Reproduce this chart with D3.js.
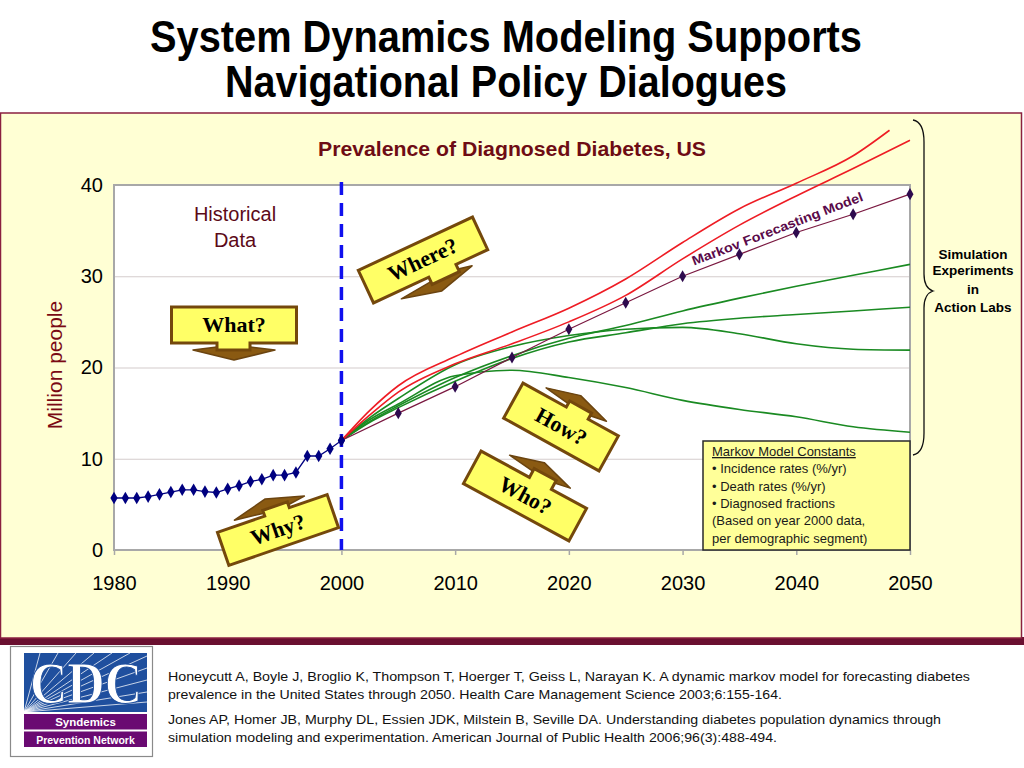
<!DOCTYPE html>
<html>
<head>
<meta charset="utf-8">
<script src="https://cdn.jsdelivr.net/npm/d3@7"></script>
<style>
  body { margin: 0; background: #ffffff; }
  svg { display: block; }
</style>
</head>
<body>
<script>
// ---- data ----
var histYears = [1980,1981,1982,1983,1984,1985,1986,1987,1988,1989,1990,1991,1992,1993,1994,1995,1996,1997,1998,1999,2000];
var histValues = [5.7,5.7,5.7,5.85,6.1,6.35,6.6,6.6,6.4,6.3,6.7,7.05,7.5,7.75,8.2,8.2,8.5,10.3,10.3,11.1,12.0];

var markovYears = [2000,2005,2010,2015,2020,2025,2030,2035,2040,2045,2050];
var markovValues = [12.0,15.0,17.9,21.1,24.2,27.1,30.0,32.4,34.8,36.8,39.0];

var scenarioYears = [2000,2002.5,2005,2010,2015,2020,2025,2030,2035,2040,2045,2050];
var redHighYears = [2000,2002.5,2005,2010,2015,2020,2025,2030,2035,2040,2045,2048.2];
var redHigh = [12.0,15.3,18.0,21.2,23.9,26.5,29.7,33.7,37.4,40.2,43.2,46.0];
var redLow = [12.0,14.8,17.3,20.4,22.6,25.0,27.9,31.9,35.6,38.8,41.8,44.9];
var greenA = [12.0,14.1,15.8,18.9,21.3,23.2,24.6,26.2,27.6,28.9,30.1,31.3];
var greenB = [12.0,14.0,15.6,18.5,21.0,22.8,23.8,24.8,25.4,25.8,26.2,26.6];
var greenC = [12.0,14.5,16.6,20.3,22.3,23.5,24.2,24.4,23.7,22.6,22.0,21.9];
var greenD = [12.0,14.3,16.0,19.1,19.7,18.9,17.8,16.4,15.4,14.6,13.5,12.9];

var xTicks = [1980,1990,2000,2010,2020,2030,2040,2050];
var yTicks = [0,10,20,30,40];

var legendLines = ["Markov Model Constants", "\u2022 Incidence rates (%/yr)", "\u2022 Death rates (%/yr)",
  "\u2022 Diagnosed fractions", "(Based on year 2000 data,", "per demographic segment)"];
var braceLines = ["Simulation", "Experiments", "in", "Action Labs"];
var references = [
  "Honeycutt A, Boyle J, Broglio K, Thompson T, Hoerger T, Geiss L, Narayan K. A dynamic markov model for forecasting diabetes",
  "prevalence in the United States through 2050. Health Care Management Science 2003;6:155-164.",
  "Jones AP, Homer JB, Murphy DL, Essien JDK, Milstein B, Seville DA. Understanding diabetes population dynamics through",
  "simulation modeling and experimentation. American Journal of Public Health 2006;96(3):488-494."
];

var width = 1024, height = 768;
var sans = "'Liberation Sans', Arial, sans-serif";
var narrow = "'Liberation Sans Narrow', 'Arial Narrow', 'Liberation Sans', Arial, sans-serif";
var serif = "'Liberation Serif', 'Times New Roman', serif";

var svg = d3.select("body")
    .append("svg")
    .attr("width", width)
    .attr("height", height)
    .style("background-color", "#ffffff");

// slide title
var titleLines = [["System Dynamics Modeling Supports", 52, 712], ["Navigational Policy Dialogues", 97, 562]];
titleLines.forEach(function(t) {
    svg.append("text")
        .attr("x", 506).attr("y", t[1])
        .attr("text-anchor", "middle")
        .attr("font-family", narrow)
        .attr("font-weight", "bold")
        .attr("font-size", "44px")
        .attr("textLength", t[2])
        .attr("lengthAdjust", "spacingAndGlyphs")
        .text(t[0]);
});

// yellow panel
svg.append("rect")
    .attr("x", 0).attr("y", 637).attr("width", 1024).attr("height", 8)
    .attr("fill", "#6a1030");
svg.append("rect")
    .attr("x", 0.5).attr("y", 113).attr("width", 1021).attr("height", 525)
    .attr("fill", "#ffffd4")
    .attr("stroke", "#8a2040")
    .attr("stroke-width", 1.5);

// scales
var x = d3.scaleLinear().domain([1980, 2050]).range([114, 910]);
var y = d3.scaleLinear().domain([0, 40]).range([550, 185]);

// plot area
svg.append("rect")
    .attr("x", x(1980)).attr("y", y(40))
    .attr("width", x(2050) - x(1980)).attr("height", y(0) - y(40))
    .attr("fill", "#ffffff");

// gridlines
svg.append("g")
    .attr("transform", "translate(" + x(1980) + ",0)")
    .call(d3.axisLeft(y).tickValues(yTicks.slice(1, 4)).tickSize(-(x(2050) - x(1980))).tickFormat(""))
    .call(function(g) { g.select(".domain").remove(); })
    .selectAll("line").attr("stroke", "#d4cccc").attr("stroke-width", 1.2);

svg.append("rect")
    .attr("x", x(1980)).attr("y", y(40))
    .attr("width", x(2050) - x(1980)).attr("height", y(0) - y(40))
    .attr("fill", "none")
    .attr("stroke", "#a8a8a8")
    .attr("stroke-width", 2);

// axes
var yAxis = svg.append("g")
    .attr("transform", "translate(" + x(1980) + ",0)")
    .call(d3.axisLeft(y).tickValues(yTicks).tickSize(0).tickPadding(11));
yAxis.select(".domain").remove();
yAxis.selectAll("text").attr("font-family", sans).attr("font-size", "20px").attr("fill", "#000");

var xAxis = svg.append("g")
    .attr("transform", "translate(0," + y(0) + ")")
    .call(d3.axisBottom(x).tickValues(xTicks).tickFormat(d3.format("d")).tickSize(5).tickPadding(21));
xAxis.select(".domain").remove();
xAxis.selectAll("line").attr("stroke", "#a8a8a8").attr("stroke-width", 1.5);
xAxis.selectAll("text").attr("font-family", sans).attr("font-size", "20px").attr("fill", "#000");

// axis title + chart title
svg.append("text")
    .attr("transform", "translate(62,365) rotate(-90)")
    .attr("text-anchor", "middle")
    .attr("font-family", sans)
    .attr("font-size", "21px")
    .attr("fill", "#7a0a14")
    .text("Million people");

svg.append("text")
    .attr("x", 512).attr("y", 156)
    .attr("text-anchor", "middle")
    .attr("font-family", narrow)
    .attr("font-weight", "bold")
    .attr("font-size", "21px")
    .attr("textLength", 388)
    .attr("lengthAdjust", "spacingAndGlyphs")
    .attr("fill", "#6e0c14")
    .text("Prevalence of Diagnosed Diabetes, US");

svg.append("text")
    .attr("x", 235).attr("y", 221)
    .attr("text-anchor", "middle")
    .attr("font-family", sans)
    .attr("font-size", "20px")
    .attr("fill", "#5c0a18")
    .selectAll("tspan")
    .data(["Historical", "Data"])
    .join("tspan")
    .attr("x", 235)
    .attr("dy", function(d, i) { return i === 0 ? 0 : 26; })
    .text(function(d) { return d; });

// dashed 2000 divider
svg.append("line")
    .attr("x1", x(2000)).attr("x2", x(2000))
    .attr("y1", 182).attr("y2", y(0))
    .attr("stroke", "#1010ee")
    .attr("stroke-width", 3.5)
    .attr("stroke-dasharray", "13,8");

// scenario lines
var line = d3.line()
    .x(function(d) { return x(d[0]); })
    .y(function(d) { return y(d[1]); })
    .curve(d3.curveMonotoneX);

function pairs(years, vals) {
    return vals.map(function(v, i) { return [years[i], v]; });
}

var scenarios = [
    [scenarioYears, greenD, "#1a8a22"],
    [scenarioYears, greenC, "#1a8a22"],
    [scenarioYears, greenB, "#1a8a22"],
    [scenarioYears, greenA, "#1a8a22"],
    [scenarioYears, redLow, "#ee1c24"],
    [redHighYears, redHigh, "#ee1c24"]
];
scenarios.forEach(function(s) {
    svg.append("path")
        .datum(pairs(s[0], s[1]))
        .attr("d", line)
        .attr("fill", "none")
        .attr("stroke", s[2])
        .attr("stroke-width", 1.6);
});

// markov line
var straight = d3.line()
    .x(function(d) { return x(d[0]); })
    .y(function(d) { return y(d[1]); });

svg.append("path")
    .datum(pairs(markovYears, markovValues))
    .attr("d", straight)
    .attr("fill", "none")
    .attr("stroke", "#7a1840")
    .attr("stroke-width", 1.2);

svg.selectAll(".mk")
    .data(pairs(markovYears, markovValues))
    .join("path")
    .attr("class", "mk")
    .attr("transform", function(d) { return "translate(" + x(d[0]) + "," + y(d[1]) + ")"; })
    .attr("d", d3.symbol().type(d3.symbolDiamond).size(42))
    .attr("fill", "#2e0a4e");

// historical
svg.append("path")
    .datum(pairs(histYears, histValues))
    .attr("d", straight)
    .attr("fill", "none")
    .attr("stroke", "#000080")
    .attr("stroke-width", 1.3);

svg.selectAll(".hist")
    .data(pairs(histYears, histValues))
    .join("path")
    .attr("class", "hist")
    .attr("transform", function(d) { return "translate(" + x(d[0]) + "," + y(d[1]) + ")"; })
    .attr("d", d3.symbol().type(d3.symbolDiamond).size(46))
    .attr("fill", "#000080");

// markov label along line
svg.append("text")
    .attr("transform", "translate(779,233) rotate(-21)")
    .attr("text-anchor", "middle")
    .attr("font-family", sans)
    .attr("font-weight", "bold")
    .attr("font-size", "13px")
    .attr("textLength", 182)
    .attr("lengthAdjust", "spacingAndGlyphs")
    .attr("fill", "#5a0a4a")
    .text("Markov Forecasting Model");

// brace + label
svg.append("path")
    .attr("d", "M913,120 Q924,122 924,142 L924,274 Q924,288 933,291 Q924,294 924,308 L924,433 Q924,453 913,455")
    .attr("fill", "none")
    .attr("stroke", "#111")
    .attr("stroke-width", 1.3);

svg.append("text")
    .attr("font-family", sans)
    .attr("font-weight", "bold")
    .attr("font-size", "13.5px")
    .attr("text-anchor", "middle")
    .selectAll("tspan")
    .data(braceLines)
    .join("tspan")
    .attr("x", 973)
    .attr("y", function(d, i) { return [259, 275, 294, 312][i]; })
    .text(function(d) { return d; });

// legend box
svg.append("rect")
    .attr("x", 703).attr("y", 441).attr("width", 207).attr("height", 109)
    .attr("fill", "#ffff99")
    .attr("stroke", "#2a2a2a")
    .attr("stroke-width", 1.5);

svg.append("text")
    .attr("font-family", sans)
    .attr("font-size", "13px")
    .attr("fill", "#1a1a1a")
    .selectAll("tspan")
    .data(legendLines)
    .join("tspan")
    .attr("x", 712)
    .attr("y", function(d, i) { return 456 + i * 17.3; })
    .attr("text-decoration", function(d, i) { return i === 0 ? "underline" : null; })
    .text(function(d) { return d; });

// question callouts
function callout(cx, cy, angle, w, h, label, side, stem, sl, head, tip, hl) {
    var g = svg.append("g").attr("transform", "translate(" + cx + "," + cy + ") rotate(" + angle + ")");
    var s = side === "bottom" ? 1 : -1;
    var e = s * h / 2, e1 = e + s * sl, e2 = e1 + s * hl;
    var body = [[-w / 2, -s * h / 2], [w / 2, -s * h / 2], [w / 2, e], [stem[1], e], [stem[1], e1],
        [stem[0], e1], [stem[0], e], [-w / 2, e]];
    g.append("path")
        .attr("d", "M" + [[stem[0], e1 - s * 3], [head[0], e1], [tip, e2], [head[1], e1], [stem[1], e1 - s * 3]].join("L") + "Z")
        .attr("fill", "#8a5a12")
        .attr("stroke", "#6b4410")
        .attr("stroke-width", 1.5)
        .attr("stroke-linejoin", "round");
    g.append("path")
        .attr("d", "M" + body.join("L") + "Z")
        .attr("fill", "#ffff66")
        .attr("stroke", "#74480c")
        .attr("stroke-width", 3)
        .attr("stroke-linejoin", "miter");
    g.append("text")
        .attr("x", 0).attr("y", 7)
        .attr("text-anchor", "middle")
        .attr("font-family", serif)
        .attr("font-weight", "bold")
        .attr("font-size", "22px")
        .attr("fill", "#000")
        .text(label);
}

callout(234, 325, 0, 125, 36, "What?", "bottom", [-17, 16], 7, [-41, 41], 0, 10);
callout(423, 260, -25, 126, 36, "Where?", "bottom", [-2, 28], 8, [-36, 42], 4, 10);
callout(278, 530, -19, 116, 35, "Why?", "top", [-8, 18], 6, [-38, 36], -2, 10);
callout(561, 427, 29, 109, 40, "How?", "top", [-5, 20], 7, [-32, 37], 2, 10);
callout(525, 496, 28.5, 120, 37, "Who?", "top", [-5, 20], 10, [-33, 36], 1, 10);

// CDC logo
var logo = svg.append("g");
logo.append("rect")
    .attr("x", 10.5).attr("y", 646.5).attr("width", 142).attr("height", 110)
    .attr("fill", "#ffffff")
    .attr("stroke", "#8a8a8a")
    .attr("stroke-width", 1.2);
logo.append("rect")
    .attr("x", 24).attr("y", 653).attr("width", 123).attr("height", 59)
    .attr("fill", "#1f4f9e");
var rayEnds = [[40, 653], [58, 653], [76, 653], [94, 653], [112, 653], [130, 653], [147, 656], [147, 668], [147, 680], [147, 692], [147, 702]];
logo.selectAll(".ray")
    .data(rayEnds)
    .join("line")
    .attr("class", "ray")
    .attr("x1", 24).attr("y1", 712)
    .attr("x2", function(d) { return d[0]; })
    .attr("y2", function(d) { return d[1]; })
    .attr("stroke", "#ffffff")
    .attr("stroke-opacity", 0.75)
    .attr("stroke-width", 1);
logo.append("text")
    .attr("x", 86).attr("y", 703)
    .attr("text-anchor", "middle")
    .attr("font-family", serif)
    .attr("font-weight", "bold")
    .attr("font-size", "60px")
    .attr("textLength", 112)
    .attr("lengthAdjust", "spacingAndGlyphs")
    .attr("fill", "#ffffff")
    .attr("stroke", "#1f4f9e")
    .attr("stroke-width", 1)
    .text("CDC");
[["Syndemics", 714, 11.5], ["Prevention Network", 731.5, 10.5]].forEach(function(b) {
    logo.append("rect")
        .attr("x", 24).attr("y", b[1]).attr("width", 123).attr("height", 15.5)
        .attr("fill", "#6a0a72");
    logo.append("text")
        .attr("x", 85.5).attr("y", b[1] + 12)
        .attr("text-anchor", "middle")
        .attr("font-family", sans)
        .attr("font-weight", "bold")
        .attr("font-size", b[2] + "px")
        .attr("fill", "#ffffff")
        .text(b[0]);
});

// references
var refWidths = [802, 614, 773, 609];
var refY = [681, 699, 724, 742];
references.forEach(function(r, i) {
    svg.append("text")
        .attr("x", 168).attr("y", refY[i])
        .attr("font-family", sans)
        .attr("font-size", "13px")
        .attr("textLength", refWidths[i])
        .attr("lengthAdjust", "spacingAndGlyphs")
        .attr("fill", "#111")
        .text(r);
});
</script>
</body>
</html>
